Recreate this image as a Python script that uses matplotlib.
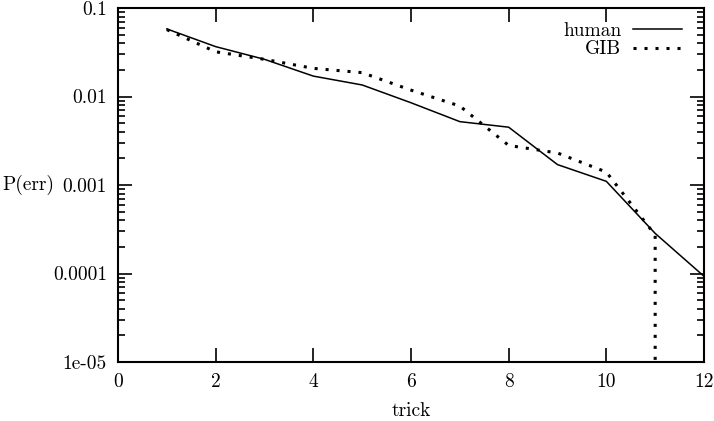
import numpy as np
import matplotlib
matplotlib.use('Agg')
import matplotlib.pyplot as plt

plt.rcParams['font.family'] = ['cmr10', 'DejaVu Serif']
plt.rcParams['font.size'] = 14
plt.rcParams['axes.unicode_minus'] = False

# values
tricks = [1, 2, 3, 4, 5, 6, 7, 8, 9, 10, 11, 12]
human = [0.058, 0.0366, 0.0263, 0.0170, 0.0135, 0.0085, 0.0052, 0.0045,
         0.0017, 0.0011, 0.000284, 0.000093]
# GIB drops to zero after trick 11 (drawn as a vertical line off the axis)
gib_tricks = [1, 2, 3, 4, 5, 6, 7, 8, 9, 10, 11, 11]
gib = [0.057, 0.032, 0.0263, 0.0208, 0.0186, 0.0118, 0.0078, 0.0028,
       0.0023, 0.0014, 0.000272, 1e-7]

xticks = [0, 2, 4, 6, 8, 10, 12]
yticks = [1e-5, 1e-4, 1e-3, 1e-2, 1e-1]
ytick_labels = ['1e-05', '0.0001', '0.001', '0.01', '0.1']

fig = plt.figure(figsize=(7.14, 4.21), dpi=100)
ax = fig.add_axes([118/714, 1 - 362/421, (704 - 118)/714, (362 - 8)/421])

ax.plot(tricks, human, color='black', lw=1.1, label='human')
ax.plot(gib_tricks, gib, color='black', lw=2.2, linestyle=(0, (1, 2.6)),
        dash_capstyle='butt', label='GIB')

ax.set_yscale('log')
ax.set_xlim(0, 12)
ax.set_ylim(1e-5, 0.1)
ax.set_xticks(xticks)
ax.set_xticklabels([str(t) for t in xticks])
ax.set_yticks(yticks)
ax.set_yticklabels(ytick_labels)
ax.yaxis.set_minor_locator(matplotlib.ticker.LogLocator(base=10, subs=np.arange(2, 10)))
ax.yaxis.set_minor_formatter(matplotlib.ticker.NullFormatter())

ax.tick_params(which='both', direction='in', top=True, right=True, width=1.2)
ax.tick_params(which='major', length=10, pad=8)
ax.tick_params(which='minor', length=5)
for s in ax.spines.values():
    s.set_linewidth(1.5)

ax.set_xlabel('trick', labelpad=8)
ax.set_ylabel('P(err)', rotation=0, ha='left', va='center')
ax.yaxis.set_label_coords(-118/586 + 2/586, 0.5)

ax.legend(loc='upper right', frameon=False, markerfirst=False, handlelength=2.5,
          handletextpad=0.6, labelspacing=0.05, borderaxespad=0.3,
          bbox_to_anchor=(0.985, 1.0))

fig.savefig('out.png', dpi=100)
